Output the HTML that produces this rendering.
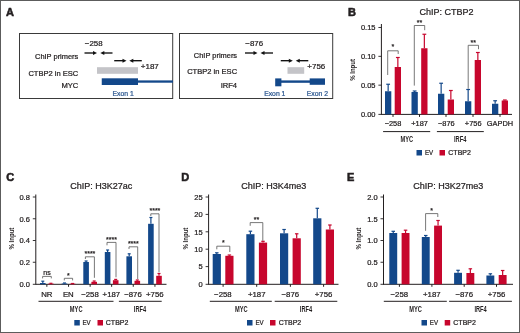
<!DOCTYPE html>
<html><head><meta charset="utf-8"><style>
html,body{margin:0;padding:0;background:#fff;}
#w{position:relative;width:520px;height:333px;overflow:hidden;background:#fff;}
svg{position:absolute;left:0;top:0;font-family:"Liberation Sans", sans-serif;will-change:transform;}
</style></head><body><div id="w">
<svg width="520" height="333" viewBox="0 0 520 333">
<rect x="0.5" y="0.5" width="519" height="332" fill="#fff" stroke="#5c5c5c" stroke-width="1"/>
<text x="6" y="15.8" font-size="11" text-anchor="start" fill="#231f20" font-weight="bold"  stroke="#231f20" stroke-width="0.55">A</text>
<rect x="19.5" y="33.5" width="153.2" height="65" fill="none" stroke="#3a3a3a" stroke-width="1"/>
<rect x="179.5" y="33.5" width="153.2" height="65" fill="none" stroke="#3a3a3a" stroke-width="1"/>
<text x="78.3" y="58.6" font-size="7.45" text-anchor="end" fill="#231f20" font-weight="normal"  stroke="#231f20" stroke-width="0.24">ChIP primers</text>
<text x="78.3" y="75.8" font-size="7.55" text-anchor="end" fill="#231f20" font-weight="normal"  stroke="#231f20" stroke-width="0.24">CTBP2 in ESC</text>
<text x="78.3" y="87.6" font-size="7.6" text-anchor="end" fill="#231f20" font-weight="normal"  stroke="#231f20" stroke-width="0.24">MYC</text>
<text x="237.1" y="57.9" font-size="7.45" text-anchor="end" fill="#231f20" font-weight="normal"  stroke="#231f20" stroke-width="0.24">ChIP primers</text>
<text x="237.1" y="73.9" font-size="7.55" text-anchor="end" fill="#231f20" font-weight="normal"  stroke="#231f20" stroke-width="0.24">CTBP2 in ESC</text>
<text x="237.1" y="87.6" font-size="7.6" text-anchor="end" fill="#231f20" font-weight="normal"  stroke="#231f20" stroke-width="0.24">IRF4</text>
<text x="84.8" y="46.2" font-size="7.9" text-anchor="start" fill="#231f20" font-weight="normal"  stroke="#231f20" stroke-width="0.24">−258</text>
<line x1="84.5" y1="53" x2="94.5" y2="53" stroke="#111" stroke-width="1.35"/>
<polygon points="93,51 97,53 93,55" fill="#111"/>
<line x1="102.8" y1="53" x2="112.5" y2="53" stroke="#111" stroke-width="1.35"/>
<polygon points="104.3,51 100.3,53 104.3,55" fill="#111"/>
<line x1="114.2" y1="60.7" x2="124.0" y2="60.7" stroke="#111" stroke-width="1.35"/>
<polygon points="122.5,58.7 126.5,60.7 122.5,62.7" fill="#111"/>
<line x1="131.8" y1="60.7" x2="141.8" y2="60.7" stroke="#111" stroke-width="1.35"/>
<polygon points="133.3,58.7 129.3,60.7 133.3,62.7" fill="#111"/>
<text x="140.8" y="68.9" font-size="8" text-anchor="start" fill="#231f20" font-weight="normal"  stroke="#231f20" stroke-width="0.24">+187</text>
<rect x="97" y="67.2" width="41" height="6.6" fill="#c4c4c8"/>
<rect x="101.75" y="78.3" width="36.25" height="6.7" fill="#13488a"/>
<rect x="138" y="80.4" width="35" height="2.3" fill="#13488a"/>
<text x="112.5" y="95.7" font-size="6.8" text-anchor="start" fill="#2f5a92" font-weight="normal"  stroke="#2f5a92" stroke-width="0.24">Exon 1</text>
<text x="245.3" y="46.2" font-size="7.9" text-anchor="start" fill="#231f20" font-weight="normal"  stroke="#231f20" stroke-width="0.24">−876</text>
<line x1="245" y1="53" x2="255.0" y2="53" stroke="#111" stroke-width="1.35"/>
<polygon points="253.5,51 257.5,53 253.5,55" fill="#111"/>
<line x1="263.0" y1="53" x2="273" y2="53" stroke="#111" stroke-width="1.35"/>
<polygon points="264.5,51 260.5,53 264.5,55" fill="#111"/>
<line x1="280.75" y1="60.7" x2="290.3" y2="60.7" stroke="#111" stroke-width="1.35"/>
<polygon points="288.8,58.7 292.8,60.7 288.8,62.7" fill="#111"/>
<line x1="298.25" y1="60.7" x2="308.3" y2="60.7" stroke="#111" stroke-width="1.35"/>
<polygon points="299.75,58.7 295.75,60.7 299.75,62.7" fill="#111"/>
<text x="307.3" y="68.6" font-size="8" text-anchor="start" fill="#231f20" font-weight="normal"  stroke="#231f20" stroke-width="0.24">+756</text>
<rect x="287.5" y="67.2" width="16.7" height="6.6" fill="#c4c4c8"/>
<rect x="275.2" y="78.4" width="6.2" height="7.9" fill="#13488a"/>
<rect x="281" y="80.4" width="29" height="2.4" fill="#13488a"/>
<rect x="309.7" y="78.4" width="15.3" height="6.4" fill="#13488a"/>
<text x="264.2" y="95.7" font-size="6.8" text-anchor="start" fill="#2f5a92" font-weight="normal"  stroke="#2f5a92" stroke-width="0.24">Exon 1</text>
<text x="306.8" y="95.7" font-size="6.8" text-anchor="start" fill="#2f5a92" font-weight="normal"  stroke="#2f5a92" stroke-width="0.24">Exon 2</text>
<text x="348" y="15.8" font-size="11" text-anchor="start" fill="#231f20" font-weight="bold"  stroke="#231f20" stroke-width="0.55">B</text>
<text transform="translate(446.5,15) scale(0.96,1)" font-size="9.4" text-anchor="middle" fill="#231f20" font-weight="normal"  stroke="#231f20" stroke-width="0.24">ChIP: CTBP2</text>
<line x1="381.4" y1="24" x2="381.4" y2="114.9" stroke="#231f20" stroke-width="1"/>
<line x1="378.4" y1="27.49499999999999" x2="381.4" y2="27.49499999999999" stroke="#231f20" stroke-width="0.9"/>
<text x="375.5" y="30.29499999999999" font-size="7.5" text-anchor="end" fill="#231f20" font-weight="normal"  stroke="#231f20" stroke-width="0.24">0.15</text>
<line x1="378.4" y1="56.32999999999999" x2="381.4" y2="56.32999999999999" stroke="#231f20" stroke-width="0.9"/>
<text x="375.5" y="59.12999999999999" font-size="7.5" text-anchor="end" fill="#231f20" font-weight="normal"  stroke="#231f20" stroke-width="0.24">0.10</text>
<line x1="378.4" y1="85.16499999999999" x2="381.4" y2="85.16499999999999" stroke="#231f20" stroke-width="0.9"/>
<text x="375.5" y="87.96499999999999" font-size="7.5" text-anchor="end" fill="#231f20" font-weight="normal"  stroke="#231f20" stroke-width="0.24">0.05</text>
<line x1="378.4" y1="114.4" x2="381.4" y2="114.4" stroke="#231f20" stroke-width="0.9"/>
<text x="375.5" y="117.2" font-size="7.5" text-anchor="end" fill="#231f20" font-weight="normal"  stroke="#231f20" stroke-width="0.24">0.00</text>
<line x1="381.4" y1="114.4" x2="512" y2="114.4" stroke="#231f20" stroke-width="1"/>
<line x1="388.15" y1="84.25" x2="388.15" y2="91.25" stroke="#13488a" stroke-width="1.2"/>
<line x1="386.25" y1="84.25" x2="390.04999999999995" y2="84.25" stroke="#13488a" stroke-width="1.2"/>
<rect x="385" y="91.25" width="6.3" height="23.150000000000006" fill="#13488a"/>
<line x1="397.84999999999997" y1="57.5" x2="397.84999999999997" y2="67" stroke="#c7062d" stroke-width="1.2"/>
<line x1="395.95" y1="57.5" x2="399.74999999999994" y2="57.5" stroke="#c7062d" stroke-width="1.2"/>
<rect x="394.7" y="67" width="6.3" height="47.400000000000006" fill="#c7062d"/>
<line x1="393.0" y1="114.4" x2="393.0" y2="116.9" stroke="#231f20" stroke-width="1"/>
<line x1="414.65" y1="91.0" x2="414.65" y2="92" stroke="#13488a" stroke-width="1.2"/>
<line x1="412.75" y1="91.0" x2="416.54999999999995" y2="91.0" stroke="#13488a" stroke-width="1.2"/>
<rect x="411.5" y="92" width="6.3" height="22.400000000000006" fill="#13488a"/>
<line x1="424.34999999999997" y1="34.25" x2="424.34999999999997" y2="48.25" stroke="#c7062d" stroke-width="1.2"/>
<line x1="422.45" y1="34.25" x2="426.24999999999994" y2="34.25" stroke="#c7062d" stroke-width="1.2"/>
<rect x="421.2" y="48.25" width="6.3" height="66.15" fill="#c7062d"/>
<line x1="419.5" y1="114.4" x2="419.5" y2="116.9" stroke="#231f20" stroke-width="1"/>
<line x1="441.15" y1="83.25" x2="441.15" y2="93.75" stroke="#13488a" stroke-width="1.2"/>
<line x1="439.25" y1="83.25" x2="443.04999999999995" y2="83.25" stroke="#13488a" stroke-width="1.2"/>
<rect x="438" y="93.75" width="6.3" height="20.650000000000006" fill="#13488a"/>
<line x1="450.84999999999997" y1="90.5" x2="450.84999999999997" y2="99.5" stroke="#c7062d" stroke-width="1.2"/>
<line x1="448.95" y1="90.5" x2="452.74999999999994" y2="90.5" stroke="#c7062d" stroke-width="1.2"/>
<rect x="447.7" y="99.5" width="6.3" height="14.900000000000006" fill="#c7062d"/>
<line x1="446.0" y1="114.4" x2="446.0" y2="116.9" stroke="#231f20" stroke-width="1"/>
<line x1="468.15" y1="89.5" x2="468.15" y2="101.25" stroke="#13488a" stroke-width="1.2"/>
<line x1="466.25" y1="89.5" x2="470.04999999999995" y2="89.5" stroke="#13488a" stroke-width="1.2"/>
<rect x="465" y="101.25" width="6.3" height="13.150000000000006" fill="#13488a"/>
<line x1="477.84999999999997" y1="52.5" x2="477.84999999999997" y2="60" stroke="#c7062d" stroke-width="1.2"/>
<line x1="475.95" y1="52.5" x2="479.74999999999994" y2="52.5" stroke="#c7062d" stroke-width="1.2"/>
<rect x="474.7" y="60" width="6.3" height="54.400000000000006" fill="#c7062d"/>
<line x1="473.0" y1="114.4" x2="473.0" y2="116.9" stroke="#231f20" stroke-width="1"/>
<line x1="495.15" y1="100.75" x2="495.15" y2="103.75" stroke="#13488a" stroke-width="1.2"/>
<line x1="493.25" y1="100.75" x2="497.04999999999995" y2="100.75" stroke="#13488a" stroke-width="1.2"/>
<rect x="492" y="103.75" width="6.3" height="10.650000000000006" fill="#13488a"/>
<line x1="504.84999999999997" y1="100" x2="504.84999999999997" y2="100.5" stroke="#c7062d" stroke-width="1.2"/>
<line x1="502.95" y1="100" x2="506.74999999999994" y2="100" stroke="#c7062d" stroke-width="1.2"/>
<rect x="501.7" y="100.5" width="6.3" height="13.900000000000006" fill="#c7062d"/>
<line x1="500.0" y1="114.4" x2="500.0" y2="116.9" stroke="#231f20" stroke-width="1"/>
<text x="393" y="126.2" font-size="7.4" text-anchor="middle" fill="#231f20" font-weight="normal"  stroke="#231f20" stroke-width="0.24">−258</text>
<text x="419.6" y="126.2" font-size="7.4" text-anchor="middle" fill="#231f20" font-weight="normal"  stroke="#231f20" stroke-width="0.24">+187</text>
<text x="446.3" y="126.2" font-size="7.4" text-anchor="middle" fill="#231f20" font-weight="normal"  stroke="#231f20" stroke-width="0.24">−876</text>
<text x="473.2" y="126.2" font-size="7.4" text-anchor="middle" fill="#231f20" font-weight="normal"  stroke="#231f20" stroke-width="0.24">+756</text>
<text x="500" y="126.2" font-size="7.4" text-anchor="middle" fill="#231f20" font-weight="normal"  stroke="#231f20" stroke-width="0.24">GAPDH</text>
<text transform="translate(354.8,69.9) rotate(-90) scale(0.78,1)" font-size="7.8" text-anchor="middle" fill="#231f20" font-weight="bold">% Input</text>
<polyline points="387.7,75 387.7,50.8 398.2,50.8 398.2,54" fill="none" stroke="#555555" stroke-width="0.8"/>
<text x="392.95" y="49.4" font-size="7" text-anchor="middle" fill="#231f20" font-weight="normal"  stroke="#231f20" stroke-width="0.24">*</text>
<polyline points="414.3,85.6 414.3,25.5 424.7,25.5 424.7,30.2" fill="none" stroke="#555555" stroke-width="0.8"/>
<text x="419.5" y="25.2" font-size="7" text-anchor="middle" fill="#231f20" font-weight="normal"  stroke="#231f20" stroke-width="0.24">**</text>
<polyline points="468.2,88.8 468.2,45.3 478.5,45.3 478.5,49.2" fill="none" stroke="#555555" stroke-width="0.8"/>
<text x="473.35" y="45.1" font-size="7" text-anchor="middle" fill="#231f20" font-weight="normal"  stroke="#231f20" stroke-width="0.24">**</text>
<line x1="383.1" y1="131.6" x2="430.2" y2="131.6" stroke="#231f20" stroke-width="1"/>
<line x1="436.9" y1="131.6" x2="483.8" y2="131.6" stroke="#231f20" stroke-width="1"/>
<text transform="translate(406.8,142.4) scale(0.6,1)" font-size="9.5" text-anchor="middle" fill="#231f20" font-weight="bold" >MYC</text>
<text transform="translate(460.2,142.4) scale(0.6,1)" font-size="9.5" text-anchor="middle" fill="#231f20" font-weight="bold" >IRF4</text>
<rect x="416.5" y="150" width="5.5" height="5.5" fill="#13488a"/>
<text transform="translate(425,155.3) scale(0.88,1)" font-size="7" text-anchor="start" fill="#231f20" font-weight="normal"  stroke="#231f20" stroke-width="0.24">EV</text>
<rect x="439.5" y="150" width="5.5" height="5.5" fill="#c7062d"/>
<text x="448.3" y="155.3" font-size="7" text-anchor="start" fill="#231f20" font-weight="normal"  stroke="#231f20" stroke-width="0.24">CTBP2</text>
<text x="6.3" y="180.7" font-size="11" text-anchor="start" fill="#231f20" font-weight="bold"  stroke="#231f20" stroke-width="0.55">C</text>
<text transform="translate(101.2,189.3) scale(0.96,1)" font-size="9.4" text-anchor="middle" fill="#231f20" font-weight="normal"  stroke="#231f20" stroke-width="0.24">ChIP: H3K27ac</text>
<line x1="35.8" y1="194.5" x2="35.8" y2="284.8" stroke="#231f20" stroke-width="1"/>
<line x1="32.8" y1="197.0" x2="35.8" y2="197.0" stroke="#231f20" stroke-width="0.9"/>
<text x="29.9" y="199.8" font-size="7.5" text-anchor="end" fill="#231f20" font-weight="normal"  stroke="#231f20" stroke-width="0.24">0.8</text>
<line x1="32.8" y1="218.75" x2="35.8" y2="218.75" stroke="#231f20" stroke-width="0.9"/>
<text x="29.9" y="221.55" font-size="7.5" text-anchor="end" fill="#231f20" font-weight="normal"  stroke="#231f20" stroke-width="0.24">0.6</text>
<line x1="32.8" y1="240.5" x2="35.8" y2="240.5" stroke="#231f20" stroke-width="0.9"/>
<text x="29.9" y="243.3" font-size="7.5" text-anchor="end" fill="#231f20" font-weight="normal"  stroke="#231f20" stroke-width="0.24">0.4</text>
<line x1="32.8" y1="262.25" x2="35.8" y2="262.25" stroke="#231f20" stroke-width="0.9"/>
<text x="29.9" y="265.05" font-size="7.5" text-anchor="end" fill="#231f20" font-weight="normal"  stroke="#231f20" stroke-width="0.24">0.2</text>
<line x1="32.8" y1="284.3" x2="35.8" y2="284.3" stroke="#231f20" stroke-width="0.9"/>
<text x="29.9" y="287.1" font-size="7.5" text-anchor="end" fill="#231f20" font-weight="normal"  stroke="#231f20" stroke-width="0.24">0.0</text>
<line x1="35.8" y1="284.3" x2="166.5" y2="284.3" stroke="#231f20" stroke-width="1"/>
<line x1="42.8" y1="281.2" x2="42.8" y2="283.0" stroke="#13488a" stroke-width="1.2"/>
<line x1="41.3" y1="281.2" x2="44.3" y2="281.2" stroke="#13488a" stroke-width="1.2"/>
<rect x="40" y="283.0" width="5.6" height="1.3000000000000114" fill="#13488a"/>
<line x1="50.9" y1="283.3" x2="50.9" y2="283.7" stroke="#c7062d" stroke-width="1.2"/>
<line x1="49.4" y1="283.3" x2="52.4" y2="283.3" stroke="#c7062d" stroke-width="1.2"/>
<rect x="48.1" y="283.7" width="5.6" height="0.6000000000000227" fill="#c7062d"/>
<line x1="46.849999999999994" y1="284.3" x2="46.849999999999994" y2="286.8" stroke="#231f20" stroke-width="1"/>
<line x1="64.5" y1="283.0" x2="64.5" y2="283.5" stroke="#13488a" stroke-width="1.2"/>
<line x1="63.0" y1="283.0" x2="66.0" y2="283.0" stroke="#13488a" stroke-width="1.2"/>
<rect x="61.7" y="283.5" width="5.6" height="0.8000000000000114" fill="#13488a"/>
<line x1="72.6" y1="283.5" x2="72.6" y2="283.7" stroke="#c7062d" stroke-width="1.2"/>
<line x1="71.1" y1="283.5" x2="74.1" y2="283.5" stroke="#c7062d" stroke-width="1.2"/>
<rect x="69.8" y="283.7" width="5.6" height="0.6000000000000227" fill="#c7062d"/>
<line x1="68.55" y1="284.3" x2="68.55" y2="286.8" stroke="#231f20" stroke-width="1"/>
<line x1="86.1" y1="261" x2="86.1" y2="262" stroke="#13488a" stroke-width="1.2"/>
<line x1="84.6" y1="261" x2="87.6" y2="261" stroke="#13488a" stroke-width="1.2"/>
<rect x="83.3" y="262" width="5.6" height="22.30000000000001" fill="#13488a"/>
<line x1="94.19999999999999" y1="281" x2="94.19999999999999" y2="281.8" stroke="#c7062d" stroke-width="1.2"/>
<line x1="92.69999999999999" y1="281" x2="95.69999999999999" y2="281" stroke="#c7062d" stroke-width="1.2"/>
<rect x="91.39999999999999" y="281.8" width="5.6" height="2.5" fill="#c7062d"/>
<line x1="90.14999999999999" y1="284.3" x2="90.14999999999999" y2="286.8" stroke="#231f20" stroke-width="1"/>
<line x1="107.6" y1="250" x2="107.6" y2="252" stroke="#13488a" stroke-width="1.2"/>
<line x1="106.1" y1="250" x2="109.1" y2="250" stroke="#13488a" stroke-width="1.2"/>
<rect x="104.8" y="252" width="5.6" height="32.30000000000001" fill="#13488a"/>
<line x1="115.69999999999999" y1="279.4" x2="115.69999999999999" y2="280.2" stroke="#c7062d" stroke-width="1.2"/>
<line x1="114.19999999999999" y1="279.4" x2="117.19999999999999" y2="279.4" stroke="#c7062d" stroke-width="1.2"/>
<rect x="112.89999999999999" y="280.2" width="5.6" height="4.100000000000023" fill="#c7062d"/>
<line x1="111.64999999999999" y1="284.3" x2="111.64999999999999" y2="286.8" stroke="#231f20" stroke-width="1"/>
<line x1="129.20000000000002" y1="253.8" x2="129.20000000000002" y2="256.3" stroke="#13488a" stroke-width="1.2"/>
<line x1="127.70000000000002" y1="253.8" x2="130.70000000000002" y2="253.8" stroke="#13488a" stroke-width="1.2"/>
<rect x="126.4" y="256.3" width="5.6" height="28.0" fill="#13488a"/>
<line x1="137.3" y1="280" x2="137.3" y2="280.8" stroke="#c7062d" stroke-width="1.2"/>
<line x1="135.8" y1="280" x2="138.8" y2="280" stroke="#c7062d" stroke-width="1.2"/>
<rect x="134.5" y="280.8" width="5.6" height="3.5" fill="#c7062d"/>
<line x1="133.25000000000003" y1="284.3" x2="133.25000000000003" y2="286.8" stroke="#231f20" stroke-width="1"/>
<line x1="150.9" y1="217.5" x2="150.9" y2="223.8" stroke="#13488a" stroke-width="1.2"/>
<line x1="149.4" y1="217.5" x2="152.4" y2="217.5" stroke="#13488a" stroke-width="1.2"/>
<rect x="148.1" y="223.8" width="5.6" height="60.5" fill="#13488a"/>
<line x1="159.0" y1="273.5" x2="159.0" y2="275.8" stroke="#c7062d" stroke-width="1.2"/>
<line x1="157.5" y1="273.5" x2="160.5" y2="273.5" stroke="#c7062d" stroke-width="1.2"/>
<rect x="156.2" y="275.8" width="5.6" height="8.5" fill="#c7062d"/>
<line x1="154.95000000000002" y1="284.3" x2="154.95000000000002" y2="286.8" stroke="#231f20" stroke-width="1"/>
<text x="46.8" y="296.5" font-size="7.8" text-anchor="middle" fill="#231f20" font-weight="normal"  stroke="#231f20" stroke-width="0.24">NR</text>
<text x="68.3" y="296.5" font-size="7.8" text-anchor="middle" fill="#231f20" font-weight="normal"  stroke="#231f20" stroke-width="0.24">EN</text>
<text x="90" y="296.5" font-size="7.8" text-anchor="middle" fill="#231f20" font-weight="normal"  stroke="#231f20" stroke-width="0.24">−258</text>
<text x="111.4" y="296.5" font-size="7.8" text-anchor="middle" fill="#231f20" font-weight="normal"  stroke="#231f20" stroke-width="0.24">+187</text>
<text x="133" y="296.5" font-size="7.8" text-anchor="middle" fill="#231f20" font-weight="normal"  stroke="#231f20" stroke-width="0.24">−876</text>
<text x="154.8" y="296.5" font-size="7.8" text-anchor="middle" fill="#231f20" font-weight="normal"  stroke="#231f20" stroke-width="0.24">+756</text>
<text transform="translate(13.7,238.6) rotate(-90) scale(0.78,1)" font-size="7.8" text-anchor="middle" fill="#231f20" font-weight="bold">% Input</text>
<polyline points="42.6,278.4 42.6,276.4 51.3,276.4 51.3,278.4" fill="none" stroke="#555555" stroke-width="0.8"/>
<text x="46.95" y="275.1" font-size="7" text-anchor="middle" fill="#231f20" font-weight="normal"  stroke="#231f20" stroke-width="0.24">ns</text>
<polyline points="64.3,280.4 64.3,278.3 72.6,278.3 72.6,280.4" fill="none" stroke="#555555" stroke-width="0.8"/>
<text x="68.44999999999999" y="278.09999999999997" font-size="7" text-anchor="middle" fill="#231f20" font-weight="normal"  stroke="#231f20" stroke-width="0.24">*</text>
<polyline points="85.4,259 85.4,256.8 94.4,256.8 94.4,277.8" fill="none" stroke="#555555" stroke-width="0.8"/>
<text x="89.9" y="255.9" font-size="7" text-anchor="middle" fill="#231f20" font-weight="normal"  stroke="#231f20" stroke-width="0.24">****</text>
<polyline points="107,245.3 107,242.4 116,242.4 116,277.3" fill="none" stroke="#555555" stroke-width="0.8"/>
<text x="111.5" y="241.6" font-size="7" text-anchor="middle" fill="#231f20" font-weight="normal"  stroke="#231f20" stroke-width="0.24">****</text>
<polyline points="129,249 129,246.8 137.7,246.8 137.7,279.1" fill="none" stroke="#555555" stroke-width="0.8"/>
<text x="133.35" y="245.9" font-size="7" text-anchor="middle" fill="#231f20" font-weight="normal"  stroke="#231f20" stroke-width="0.24">****</text>
<polyline points="150.8,216 150.8,213.8 159,213.8 159,272.3" fill="none" stroke="#555555" stroke-width="0.8"/>
<text x="154.9" y="212.9" font-size="7" text-anchor="middle" fill="#231f20" font-weight="normal"  stroke="#231f20" stroke-width="0.24">****</text>
<line x1="38.5" y1="301.3" x2="113.5" y2="301.3" stroke="#231f20" stroke-width="1"/>
<line x1="118.9" y1="301.3" x2="161.7" y2="301.3" stroke="#231f20" stroke-width="1"/>
<text transform="translate(76.2,312) scale(0.6,1)" font-size="9.5" text-anchor="middle" fill="#231f20" font-weight="bold" >MYC</text>
<text transform="translate(140,312) scale(0.6,1)" font-size="9.5" text-anchor="middle" fill="#231f20" font-weight="bold" >IRF4</text>
<rect x="74.3" y="320" width="5.5" height="5.5" fill="#13488a"/>
<text transform="translate(82.5,325.3) scale(0.88,1)" font-size="7" text-anchor="start" fill="#231f20" font-weight="normal"  stroke="#231f20" stroke-width="0.24">EV</text>
<rect x="97.5" y="320" width="5.5" height="5.5" fill="#c7062d"/>
<text x="105.8" y="325.3" font-size="7" text-anchor="start" fill="#231f20" font-weight="normal"  stroke="#231f20" stroke-width="0.24">CTBP2</text>
<text x="181.3" y="180.7" font-size="11" text-anchor="start" fill="#231f20" font-weight="bold"  stroke="#231f20" stroke-width="0.55">D</text>
<text transform="translate(273.7,189.3) scale(0.96,1)" font-size="9.4" text-anchor="middle" fill="#231f20" font-weight="normal"  stroke="#231f20" stroke-width="0.24">ChIP: H3K4me3</text>
<line x1="208.6" y1="194.5" x2="208.6" y2="284.8" stroke="#231f20" stroke-width="1"/>
<line x1="205.6" y1="197.0" x2="208.6" y2="197.0" stroke="#231f20" stroke-width="0.9"/>
<text x="202.7" y="199.8" font-size="7.5" text-anchor="end" fill="#231f20" font-weight="normal"  stroke="#231f20" stroke-width="0.24">25</text>
<line x1="205.6" y1="214.4" x2="208.6" y2="214.4" stroke="#231f20" stroke-width="0.9"/>
<text x="202.7" y="217.20000000000002" font-size="7.5" text-anchor="end" fill="#231f20" font-weight="normal"  stroke="#231f20" stroke-width="0.24">20</text>
<line x1="205.6" y1="231.8" x2="208.6" y2="231.8" stroke="#231f20" stroke-width="0.9"/>
<text x="202.7" y="234.60000000000002" font-size="7.5" text-anchor="end" fill="#231f20" font-weight="normal"  stroke="#231f20" stroke-width="0.24">15</text>
<line x1="205.6" y1="249.2" x2="208.6" y2="249.2" stroke="#231f20" stroke-width="0.9"/>
<text x="202.7" y="252.0" font-size="7.5" text-anchor="end" fill="#231f20" font-weight="normal"  stroke="#231f20" stroke-width="0.24">10</text>
<line x1="205.6" y1="266.6" x2="208.6" y2="266.6" stroke="#231f20" stroke-width="0.9"/>
<text x="202.7" y="269.40000000000003" font-size="7.5" text-anchor="end" fill="#231f20" font-weight="normal"  stroke="#231f20" stroke-width="0.24">5</text>
<line x1="205.6" y1="284.3" x2="208.6" y2="284.3" stroke="#231f20" stroke-width="0.9"/>
<text x="202.7" y="287.1" font-size="7.5" text-anchor="end" fill="#231f20" font-weight="normal"  stroke="#231f20" stroke-width="0.24">0</text>
<line x1="208.6" y1="284.3" x2="338.5" y2="284.3" stroke="#231f20" stroke-width="1"/>
<line x1="216.79999999999998" y1="252.8" x2="216.79999999999998" y2="254" stroke="#13488a" stroke-width="1.2"/>
<line x1="215.04999999999998" y1="252.8" x2="218.54999999999998" y2="252.8" stroke="#13488a" stroke-width="1.2"/>
<rect x="212.7" y="254" width="8.2" height="30.30000000000001" fill="#13488a"/>
<line x1="229.39999999999998" y1="255" x2="229.39999999999998" y2="255.8" stroke="#c7062d" stroke-width="1.2"/>
<line x1="227.64999999999998" y1="255" x2="231.14999999999998" y2="255" stroke="#c7062d" stroke-width="1.2"/>
<rect x="225.29999999999998" y="255.8" width="8.2" height="28.5" fill="#c7062d"/>
<line x1="223.1" y1="284.3" x2="223.1" y2="286.8" stroke="#231f20" stroke-width="1"/>
<line x1="250.4" y1="231.2" x2="250.4" y2="234.2" stroke="#13488a" stroke-width="1.2"/>
<line x1="248.65" y1="231.2" x2="252.15" y2="231.2" stroke="#13488a" stroke-width="1.2"/>
<rect x="246.3" y="234.2" width="8.2" height="50.10000000000002" fill="#13488a"/>
<line x1="263.00000000000006" y1="241.3" x2="263.00000000000006" y2="242.6" stroke="#c7062d" stroke-width="1.2"/>
<line x1="261.25000000000006" y1="241.3" x2="264.75000000000006" y2="241.3" stroke="#c7062d" stroke-width="1.2"/>
<rect x="258.90000000000003" y="242.6" width="8.2" height="41.70000000000002" fill="#c7062d"/>
<line x1="256.70000000000005" y1="284.3" x2="256.70000000000005" y2="286.8" stroke="#231f20" stroke-width="1"/>
<line x1="284.1" y1="229.5" x2="284.1" y2="233.3" stroke="#13488a" stroke-width="1.2"/>
<line x1="282.35" y1="229.5" x2="285.85" y2="229.5" stroke="#13488a" stroke-width="1.2"/>
<rect x="280" y="233.3" width="8.2" height="51.0" fill="#13488a"/>
<line x1="296.70000000000005" y1="233.8" x2="296.70000000000005" y2="238.3" stroke="#c7062d" stroke-width="1.2"/>
<line x1="294.95000000000005" y1="233.8" x2="298.45000000000005" y2="233.8" stroke="#c7062d" stroke-width="1.2"/>
<rect x="292.6" y="238.3" width="8.2" height="46.0" fill="#c7062d"/>
<line x1="290.40000000000003" y1="284.3" x2="290.40000000000003" y2="286.8" stroke="#231f20" stroke-width="1"/>
<line x1="317.3" y1="208.3" x2="317.3" y2="218.3" stroke="#13488a" stroke-width="1.2"/>
<line x1="315.55" y1="208.3" x2="319.05" y2="208.3" stroke="#13488a" stroke-width="1.2"/>
<rect x="313.2" y="218.3" width="8.2" height="66.0" fill="#13488a"/>
<line x1="329.90000000000003" y1="225" x2="329.90000000000003" y2="229.5" stroke="#c7062d" stroke-width="1.2"/>
<line x1="328.15000000000003" y1="225" x2="331.65000000000003" y2="225" stroke="#c7062d" stroke-width="1.2"/>
<rect x="325.8" y="229.5" width="8.2" height="54.80000000000001" fill="#c7062d"/>
<line x1="323.6" y1="284.3" x2="323.6" y2="286.8" stroke="#231f20" stroke-width="1"/>
<text x="222.9" y="296.5" font-size="7.8" text-anchor="middle" fill="#231f20" font-weight="normal"  stroke="#231f20" stroke-width="0.24">−258</text>
<text x="256.7" y="296.5" font-size="7.8" text-anchor="middle" fill="#231f20" font-weight="normal"  stroke="#231f20" stroke-width="0.24">+187</text>
<text x="290.3" y="296.5" font-size="7.8" text-anchor="middle" fill="#231f20" font-weight="normal"  stroke="#231f20" stroke-width="0.24">−876</text>
<text x="323.6" y="296.5" font-size="7.8" text-anchor="middle" fill="#231f20" font-weight="normal"  stroke="#231f20" stroke-width="0.24">+756</text>
<text transform="translate(188,238.6) rotate(-90) scale(0.78,1)" font-size="7.8" text-anchor="middle" fill="#231f20" font-weight="bold">% Input</text>
<polyline points="216.8,249.3 216.8,246.2 229.8,246.2 229.8,252" fill="none" stroke="#555555" stroke-width="0.8"/>
<text x="223.3" y="245.4" font-size="7" text-anchor="middle" fill="#231f20" font-weight="normal"  stroke="#231f20" stroke-width="0.24">*</text>
<polyline points="250.2,225.8 250.2,222.6 262.8,222.6 262.8,240.8" fill="none" stroke="#555555" stroke-width="0.8"/>
<text x="256.5" y="221.9" font-size="7" text-anchor="middle" fill="#231f20" font-weight="normal"  stroke="#231f20" stroke-width="0.24">**</text>
<line x1="209.8" y1="301.3" x2="271.8" y2="301.3" stroke="#231f20" stroke-width="1"/>
<line x1="274.7" y1="301.3" x2="337.3" y2="301.3" stroke="#231f20" stroke-width="1"/>
<text transform="translate(241.3,312) scale(0.6,1)" font-size="9.5" text-anchor="middle" fill="#231f20" font-weight="bold" >MYC</text>
<text transform="translate(306,312) scale(0.6,1)" font-size="9.5" text-anchor="middle" fill="#231f20" font-weight="bold" >IRF4</text>
<rect x="247" y="320" width="5.5" height="5.5" fill="#13488a"/>
<text transform="translate(255.5,325.3) scale(0.88,1)" font-size="7" text-anchor="start" fill="#231f20" font-weight="normal"  stroke="#231f20" stroke-width="0.24">EV</text>
<rect x="270" y="320" width="5.5" height="5.5" fill="#c7062d"/>
<text x="278.7" y="325.3" font-size="7" text-anchor="start" fill="#231f20" font-weight="normal"  stroke="#231f20" stroke-width="0.24">CTBP2</text>
<text x="347" y="180.7" font-size="11" text-anchor="start" fill="#231f20" font-weight="bold"  stroke="#231f20" stroke-width="0.55">E</text>
<text transform="translate(448.2,189.3) scale(0.96,1)" font-size="9.4" text-anchor="middle" fill="#231f20" font-weight="normal"  stroke="#231f20" stroke-width="0.24">ChIP: H3K27me3</text>
<line x1="383.5" y1="194.5" x2="383.5" y2="284.8" stroke="#231f20" stroke-width="1"/>
<line x1="380.5" y1="197.0" x2="383.5" y2="197.0" stroke="#231f20" stroke-width="0.9"/>
<text x="377.6" y="199.8" font-size="7.5" text-anchor="end" fill="#231f20" font-weight="normal"  stroke="#231f20" stroke-width="0.24">2.0</text>
<line x1="380.5" y1="218.75" x2="383.5" y2="218.75" stroke="#231f20" stroke-width="0.9"/>
<text x="377.6" y="221.55" font-size="7.5" text-anchor="end" fill="#231f20" font-weight="normal"  stroke="#231f20" stroke-width="0.24">1.5</text>
<line x1="380.5" y1="240.5" x2="383.5" y2="240.5" stroke="#231f20" stroke-width="0.9"/>
<text x="377.6" y="243.3" font-size="7.5" text-anchor="end" fill="#231f20" font-weight="normal"  stroke="#231f20" stroke-width="0.24">1.0</text>
<line x1="380.5" y1="262.25" x2="383.5" y2="262.25" stroke="#231f20" stroke-width="0.9"/>
<text x="377.6" y="265.05" font-size="7.5" text-anchor="end" fill="#231f20" font-weight="normal"  stroke="#231f20" stroke-width="0.24">0.5</text>
<line x1="380.5" y1="284.3" x2="383.5" y2="284.3" stroke="#231f20" stroke-width="0.9"/>
<text x="377.6" y="287.1" font-size="7.5" text-anchor="end" fill="#231f20" font-weight="normal"  stroke="#231f20" stroke-width="0.24">0.0</text>
<line x1="383.5" y1="284.3" x2="513" y2="284.3" stroke="#231f20" stroke-width="1"/>
<line x1="393.25" y1="231.3" x2="393.25" y2="233" stroke="#13488a" stroke-width="1.2"/>
<line x1="391.5" y1="231.3" x2="395.0" y2="231.3" stroke="#13488a" stroke-width="1.2"/>
<rect x="389.3" y="233" width="7.9" height="51.30000000000001" fill="#13488a"/>
<line x1="405.55" y1="230.2" x2="405.55" y2="233" stroke="#c7062d" stroke-width="1.2"/>
<line x1="403.8" y1="230.2" x2="407.3" y2="230.2" stroke="#c7062d" stroke-width="1.2"/>
<rect x="401.6" y="233" width="7.9" height="51.30000000000001" fill="#c7062d"/>
<line x1="399.4" y1="284.3" x2="399.4" y2="286.8" stroke="#231f20" stroke-width="1"/>
<line x1="425.75" y1="235.5" x2="425.75" y2="237" stroke="#13488a" stroke-width="1.2"/>
<line x1="424.0" y1="235.5" x2="427.5" y2="235.5" stroke="#13488a" stroke-width="1.2"/>
<rect x="421.8" y="237" width="7.9" height="47.30000000000001" fill="#13488a"/>
<line x1="438.05" y1="220.5" x2="438.05" y2="225.6" stroke="#c7062d" stroke-width="1.2"/>
<line x1="436.3" y1="220.5" x2="439.8" y2="220.5" stroke="#c7062d" stroke-width="1.2"/>
<rect x="434.1" y="225.6" width="7.9" height="58.70000000000002" fill="#c7062d"/>
<line x1="431.9" y1="284.3" x2="431.9" y2="286.8" stroke="#231f20" stroke-width="1"/>
<line x1="458.05" y1="270.3" x2="458.05" y2="272.8" stroke="#13488a" stroke-width="1.2"/>
<line x1="456.3" y1="270.3" x2="459.8" y2="270.3" stroke="#13488a" stroke-width="1.2"/>
<rect x="454.1" y="272.8" width="7.9" height="11.5" fill="#13488a"/>
<line x1="470.35" y1="268.8" x2="470.35" y2="273" stroke="#c7062d" stroke-width="1.2"/>
<line x1="468.6" y1="268.8" x2="472.1" y2="268.8" stroke="#c7062d" stroke-width="1.2"/>
<rect x="466.40000000000003" y="273" width="7.9" height="11.300000000000011" fill="#c7062d"/>
<line x1="464.2" y1="284.3" x2="464.2" y2="286.8" stroke="#231f20" stroke-width="1"/>
<line x1="490.34999999999997" y1="273.8" x2="490.34999999999997" y2="275.5" stroke="#13488a" stroke-width="1.2"/>
<line x1="488.59999999999997" y1="273.8" x2="492.09999999999997" y2="273.8" stroke="#13488a" stroke-width="1.2"/>
<rect x="486.4" y="275.5" width="7.9" height="8.800000000000011" fill="#13488a"/>
<line x1="502.65" y1="270.5" x2="502.65" y2="275" stroke="#c7062d" stroke-width="1.2"/>
<line x1="500.9" y1="270.5" x2="504.4" y2="270.5" stroke="#c7062d" stroke-width="1.2"/>
<rect x="498.7" y="275" width="7.9" height="9.300000000000011" fill="#c7062d"/>
<line x1="496.49999999999994" y1="284.3" x2="496.49999999999994" y2="286.8" stroke="#231f20" stroke-width="1"/>
<text x="399.3" y="296.5" font-size="7.8" text-anchor="middle" fill="#231f20" font-weight="normal"  stroke="#231f20" stroke-width="0.24">−258</text>
<text x="431.8" y="296.5" font-size="7.8" text-anchor="middle" fill="#231f20" font-weight="normal"  stroke="#231f20" stroke-width="0.24">+187</text>
<text x="464.2" y="296.5" font-size="7.8" text-anchor="middle" fill="#231f20" font-weight="normal"  stroke="#231f20" stroke-width="0.24">−876</text>
<text x="496.6" y="296.5" font-size="7.8" text-anchor="middle" fill="#231f20" font-weight="normal"  stroke="#231f20" stroke-width="0.24">+756</text>
<text transform="translate(360.6,238.6) rotate(-90) scale(0.78,1)" font-size="7.8" text-anchor="middle" fill="#231f20" font-weight="bold">% Input</text>
<polyline points="425.6,230.8 425.6,213.6 437.8,213.6 437.8,217" fill="none" stroke="#555555" stroke-width="0.8"/>
<text x="431.70000000000005" y="213.20000000000002" font-size="7" text-anchor="middle" fill="#231f20" font-weight="normal"  stroke="#231f20" stroke-width="0.24">*</text>
<line x1="383.8" y1="301.3" x2="446.8" y2="301.3" stroke="#231f20" stroke-width="1"/>
<line x1="449.1" y1="301.3" x2="511.9" y2="301.3" stroke="#231f20" stroke-width="1"/>
<text transform="translate(415.5,312) scale(0.6,1)" font-size="9.5" text-anchor="middle" fill="#231f20" font-weight="bold" >MYC</text>
<text transform="translate(480.6,312) scale(0.6,1)" font-size="9.5" text-anchor="middle" fill="#231f20" font-weight="bold" >IRF4</text>
<rect x="421.5" y="320" width="5.5" height="5.5" fill="#13488a"/>
<text transform="translate(429.8,325.3) scale(0.88,1)" font-size="7" text-anchor="start" fill="#231f20" font-weight="normal"  stroke="#231f20" stroke-width="0.24">EV</text>
<rect x="444.7" y="320" width="5.5" height="5.5" fill="#c7062d"/>
<text x="453.3" y="325.3" font-size="7" text-anchor="start" fill="#231f20" font-weight="normal"  stroke="#231f20" stroke-width="0.24">CTBP2</text>
</svg></div></body></html>
